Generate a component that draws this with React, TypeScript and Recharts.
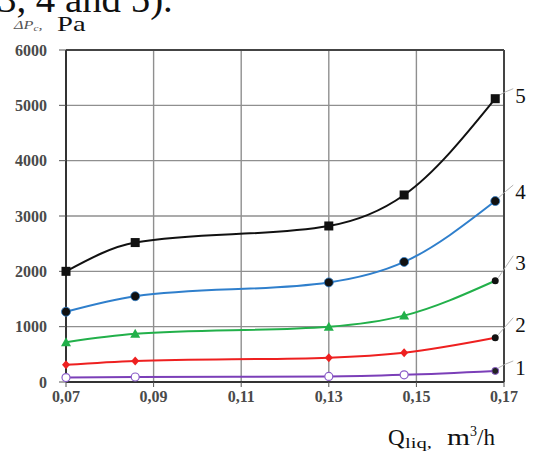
import React from "react";
import {
  LineChart,
  Line,
  XAxis,
  YAxis,
  CartesianGrid,
  ReferenceLine,
} from "recharts";

// flow rate, m3/h
const qLiq = [0.07, 0.0858, 0.13, 0.1472, 0.168];

// pressure drop, Pa (curves 1..5)
const curve1 = [80, 90, 100, 130, 200];
const curve2 = [310, 380, 440, 530, 800];
const curve3 = [720, 870, 1000, 1200, 1830];
const curve4 = [1270, 1550, 1800, 2170, 3270];
const curve5 = [2000, 2520, 2820, 3380, 5120];

const xTicks = [0.07, 0.09, 0.11, 0.13, 0.15, 0.17];
const yTicks = [0, 1000, 2000, 3000, 4000, 5000, 6000];

const data = qLiq.map((q, i) => ({
  q,
  c1: curve1[i],
  c2: curve2[i],
  c3: curve3[i],
  c4: curve4[i],
  c5: curve5[i],
}));

const serif = "Liberation Serif, DejaVu Serif, serif";

type MarkerKind = "square" | "circle" | "triangle" | "diamond" | "open";

const makeDot =
  (kind: MarkerKind, color: string, label: string, labelDy: number) =>
  (props: any) => {
    const { cx, cy, index } = props;
    const last = index === qLiq.length - 1;
    let shape: React.ReactNode;
    if (kind === "square") {
      shape = <rect x={cx - 4.5} y={cy - 4.5} width={9} height={9} fill="#111" />;
    } else if (kind === "circle") {
      shape = <circle cx={cx} cy={cy} r={4.5} fill="#111" stroke={color} strokeWidth={0.8} />;
    } else if (kind === "triangle") {
      shape = last ? (
        <circle cx={cx} cy={cy} r={3.5} fill="#111" />
      ) : (
        <polygon points={`${cx},${cy - 5} ${cx - 5},${cy + 4} ${cx + 5},${cy + 4}`} fill={color} />
      );
    } else if (kind === "diamond") {
      shape = last ? (
        <circle cx={cx} cy={cy} r={3.5} fill="#111" />
      ) : (
        <polygon points={`${cx},${cy - 4.5} ${cx + 4},${cy} ${cx},${cy + 4.5} ${cx - 4},${cy}`} fill={color} />
      );
    } else {
      shape = last ? (
        <circle cx={cx} cy={cy} r={3.5} fill="#222" stroke={color} strokeWidth={1} />
      ) : (
        <circle cx={cx} cy={cy} r={4} fill="#fff" stroke={color} strokeWidth={1.2} />
      );
    }
    return (
      <g key={`d-${label}-${index}`}>
        {last && (
          <path
            d={`M${cx + 3},${cy - 3} Q${cx + 10},${cy + labelDy * 0.4 - 6} ${cx + 18},${cy + labelDy - 7}`}
            stroke="#aaa"
            strokeWidth={0.9}
            fill="none"
          />
        )}
        {shape}
        {last && (
          <text
            x={cx + 20}
            y={cy + labelDy}
            dominantBaseline="central"
            fontFamily={serif}
            fontSize={21}
            fill="#111"
          >
            {label}
          </text>
        )}
      </g>
    );
  };

const fmt = (v: number) => v.toFixed(2).replace(".", ",");

const tickStyle = {
  fontFamily: serif,
  fontSize: 16,
  fill: "#4a4a4a",
  fontWeight: "bold" as const,
};

export default function App() {
  return (
    <div
      style={{
        position: "absolute",
        left: 0,
        top: 0,
        width: 533,
        height: 453,
        background: "#fff",
        overflow: "hidden",
      }}
    >
      <LineChart
        width={533}
        height={453}
        data={data}
        margin={{ top: 50, right: 29, left: 8, bottom: 51 }}
      >
        <CartesianGrid stroke="#8f8f8f" strokeWidth={1.4} />
        <XAxis
          dataKey="q"
          type="number"
          domain={[0.07, 0.17]}
          ticks={xTicks}
          tickFormatter={fmt}
          height={20}
          axisLine={{ stroke: "#333", strokeWidth: 2 }}
          tickLine={{ stroke: "#555" }}
          tickSize={5}
          tickMargin={4}
          tick={tickStyle}
        />
        <YAxis
          type="number"
          domain={[0, 6000]}
          ticks={yTicks}
          width={58}
          axisLine={{ stroke: "#333", strokeWidth: 2 }}
          tickLine={{ stroke: "#555" }}
          tickSize={7}
          tickMargin={12}
          tick={tickStyle}
        />
        <ReferenceLine y={6000} stroke="#444" strokeWidth={2} />
        <ReferenceLine x={0.17} stroke="#444" strokeWidth={2} />
        <Line
          dataKey="c1"
          type="monotone"
          stroke="#7b3fb8"
          strokeWidth={2}
          dot={makeDot("open", "#8a5cc8", "1", -3)}
          isAnimationActive={false}
        />
        <Line
          dataKey="c2"
          type="monotone"
          stroke="#ee2020"
          strokeWidth={2}
          dot={makeDot("diamond", "#ee2020", "2", -13)}
          isAnimationActive={false}
        />
        <Line
          dataKey="c3"
          type="monotone"
          stroke="#22b04a"
          strokeWidth={2}
          dot={makeDot("triangle", "#22b04a", "3", -18)}
          isAnimationActive={false}
        />
        <Line
          dataKey="c4"
          type="monotone"
          stroke="#2f7fcc"
          strokeWidth={2}
          dot={makeDot("circle", "#2f7fcc", "4", -9)}
          isAnimationActive={false}
        />
        <Line
          dataKey="c5"
          type="monotone"
          stroke="#111"
          strokeWidth={2}
          dot={makeDot("square", "#111", "5", -3)}
          isAnimationActive={false}
        />
      </LineChart>
      <svg
        width={533}
        height={453}
        style={{ position: "absolute", left: 0, top: 0, pointerEvents: "none" }}
      >
        <text
          transform="translate(-3,12) scale(1.05,1)"
          fontFamily={serif}
          fontSize={37}
          fill="#111"
        >
          3, 4 and 5).
        </text>
        <text
          transform="translate(14,29) scale(1.25,1)"
          fontFamily={serif}
          fill="#555"
          fontStyle="italic"
          fontSize={13}
        >
          ΔP
          <tspan fontSize={9} dy={2}>c</tspan>
          <tspan dy={-2}>,</tspan>
        </text>
        <text
          transform="translate(57,31) scale(1.3,1)"
          fontFamily={serif}
          fontSize={22}
          fill="#111"
        >
          Pa
        </text>
        <text y={445} fontFamily={serif} fill="#111">
          <tspan x={388} fontSize={23}>Q</tspan>
          <tspan x={405} fontSize={15} textLength={27} lengthAdjust="spacingAndGlyphs" dy={3}>liq,</tspan>
          <tspan x={447} fontSize={23} dy={-3} textLength={23} lengthAdjust="spacingAndGlyphs">m</tspan>
          <tspan fontSize={14} dy={-9}>3</tspan>
          <tspan fontSize={23} dy={9}>/h</tspan>
        </text>
      </svg>
    </div>
  );
}
